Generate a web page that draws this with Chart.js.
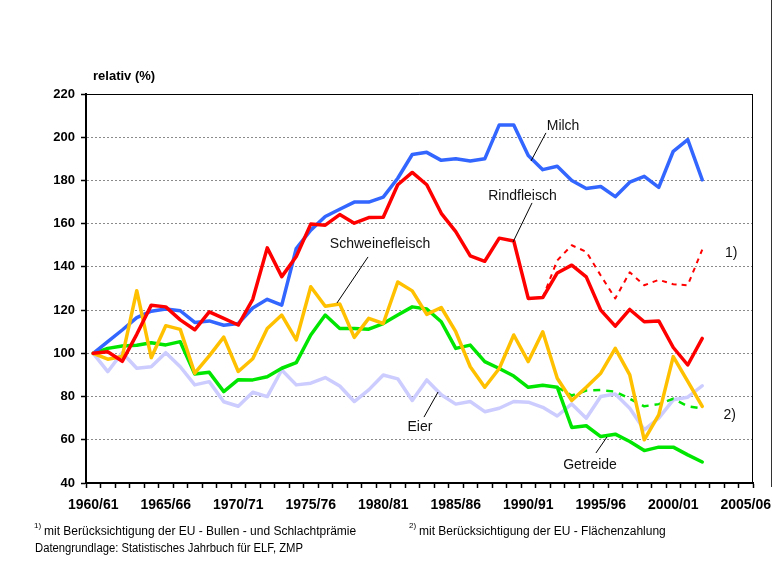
<!DOCTYPE html>
<html>
<head>
<meta charset="utf-8">
<script src="https://cdn.jsdelivr.net/npm/chart.js@4.4.0/dist/chart.umd.min.js"></script>
<style>
  html, body { margin: 0; padding: 0; background: #fff; }
  #wrap { position: relative; width: 782px; height: 562px; }
  canvas { display: block; }
</style>
</head>
<body>
<div id="wrap"><canvas id="c" width="782" height="562"></canvas></div>
<script>
const categories = ["1960/61","1961/62","1962/63","1963/64","1964/65","1965/66","1966/67","1967/68","1968/69","1969/70",
  "1970/71","1971/72","1972/73","1973/74","1974/75","1975/76","1976/77","1977/78","1978/79","1979/80",
  "1980/81","1981/82","1982/83","1983/84","1984/85","1985/86","1986/87","1987/88","1988/89","1989/90",
  "1990/91","1991/92","1992/93","1993/94","1994/95","1995/96","1996/97","1997/98","1998/99","1999/00",
  "2000/01","2001/02","2002/03","2003/04","2004/05","2005/06"];

const milch = [100,105.4,110.8,116.5,119.5,120.5,119.7,114.3,115,113,113.8,121,125,122.3,148.5,157,163.3,166.7,170,170,
  172.3,181,192,193,189.3,190,189,190,205.7,205.7,191.5,185,186.6,180,176.3,177.2,172.5,179.2,181.9,176.8,193.5,198.9,180.3];
const rindfleisch = [100,100.7,96.3,108.8,122.3,121.5,115.5,110.9,119.2,116.2,113.1,125,148.8,135.5,144.8,159.8,159.3,164.2,160.2,162.8,
  163,178,183.7,178,164.8,156.3,145.1,142.6,153.3,152,125.4,125.8,137.2,140.8,135.4,120,112.6,120.3,114.6,115,102.7,94.6,106.9];
const rindfleischPraemie = [null,null,null,null,null,null,null,null,null,null,null,null,null,null,null,null,null,null,null,null,
  null,null,null,null,null,null,null,null,null,null,null,125.8,143,150,147,136,125.4,137.5,131.5,134,132,131.5,148];
const schweinefleisch = [100,97.3,98.5,129,98,112.8,111.1,90.8,98.8,107.5,91.6,97.5,111.5,117.7,106.2,130.8,121.8,122.8,107.4,116.2,
  113.8,133,128.9,118,121.2,110,93.8,84.3,93,108.5,96.2,110,88.5,78.2,84.3,90.8,102.3,90,60,71.5,98.5,87,75.4];
const getreide = [100,102.3,103.4,103.7,104.9,103.9,105.4,90.4,91.2,82.3,87.8,87.7,89.2,93.1,95.7,108.5,117.7,111.5,111.5,111.2,
  113.8,117.7,121.5,120.5,114.6,102.3,103.8,96.2,93,89.5,84.3,85.2,84.3,65.7,66.5,61.5,62.6,59.2,55,56.6,56.6,53,49.7];
const getreideFlaeche = [null,null,null,null,null,null,null,null,null,null,null,null,null,null,null,null,null,null,null,null,
  null,null,null,null,null,null,null,null,null,null,null,null,84.3,80.5,82.8,83,82.3,79,75.5,76.5,79,75.5,74.5];
const eier = [100,91.5,100.3,93.1,93.8,100.3,93.8,85.4,86.9,77.6,75.5,82,80,92.3,85.4,86.2,88.8,84.9,77.7,83.1,
  90,88.2,78.2,87.7,80.8,76.5,77.7,73,74.6,77.7,77.4,75,71,76.6,70,80,81.2,74.6,64.6,70,78.5,79.7,85];

const yTicks = [40,60,80,100,120,140,160,180,200,220];

// annotation labels in data coordinates [categoryIndex, value]
const labels = [
  {text: "Milch", at: [32.4, 205.2], line: [[30.19,189.0],[31.22,202.0]]},
  {text: "Rindfleisch", at: [29.6, 172.8], line: [[28.95,151.5],[30.26,169.6]]},
  {text: "Schweinefleisch", at: [19.78, 150.6], line: [[18.95,144.6],[16.81,123.3]]},
  {text: "Eier", at: [22.53, 65.9], line: [[23.78,82.1],[22.81,70.5]]},
  {text: "Getreide", at: [34.26, 48.3], line: [[35.43,61.3],[34.67,53.9]]},
  {text: "1)", at: [44.0, 146.4], line: null},
  {text: "2)", at: [43.9, 71.5], line: null}
];

const FONT = "'Liberation Sans', Arial, sans-serif";

const extras = {
  id: 'extras',
  afterDraw(chart) {
    const ctx = chart.ctx, a = chart.chartArea;
    const xs = chart.scales.x, ys = chart.scales.y;
    ctx.save();
    // plot border top/right
    ctx.strokeStyle = '#000';
    ctx.lineWidth = 1;
    ctx.beginPath();
    ctx.moveTo(a.left, a.top + 0.5); ctx.lineTo(a.right, a.top + 0.5);
    ctx.moveTo(a.right - 0.5, a.top); ctx.lineTo(a.right - 0.5, a.bottom);
    ctx.stroke();
    // outer frame line on right
    ctx.strokeStyle = '#333';
    ctx.beginPath();
    ctx.moveTo(771.5, 0); ctx.lineTo(771.5, 487);
    ctx.stroke();
    // axis title
    ctx.fillStyle = '#000';
    ctx.font = "bold 13px " + FONT;
    ctx.textAlign = 'left'; ctx.textBaseline = 'middle';
    ctx.fillText("relativ (%)", 93, 76);
    // annotations
    ctx.font = "14px " + FONT;
    ctx.textAlign = 'center';
    ctx.fillStyle = '#111';
    labels.forEach(l => {
      const px = xs.getPixelForValue(l.at[0]);
      const py = ys.getPixelForValue(l.at[1]);
      ctx.fillText(l.text, px, py);
      if (l.line) {
        ctx.strokeStyle = '#000';
        ctx.lineWidth = 1;
        ctx.beginPath();
        ctx.moveTo(xs.getPixelForValue(l.line[0][0]), ys.getPixelForValue(l.line[0][1]));
        ctx.lineTo(xs.getPixelForValue(l.line[1][0]), ys.getPixelForValue(l.line[1][1]));
        ctx.stroke();
      }
    });
    // footnotes
    ctx.textAlign = 'left';
    ctx.fillStyle = '#000';
    ctx.font = "8px " + FONT;
    ctx.fillText("1)", 34, 526);
    ctx.fillText("2)", 409, 526);
    ctx.font = "12px " + FONT;
    ctx.fillText("mit Berücksichtigung der EU - Bullen - und Schlachtprämie", 44, 532, 320);
    ctx.fillText("mit Berücksichtigung der EU - Flächenzahlung", 419, 532, 258);
    ctx.fillText("Datengrundlage: Statistisches Jahrbuch für ELF, ZMP", 35, 549, 268);
    ctx.restore();
  }
};

const commonLine = { pointRadius: 0, pointHoverRadius: 0, tension: 0, fill: false, borderJoinStyle: 'round', borderCapStyle: 'round', spanGaps: false };

new Chart(document.getElementById('c'), {
  type: 'line',
  data: {
    labels: categories,
    datasets: [
      Object.assign({label: 'Rindfleisch 1)', data: rindfleischPraemie, borderColor: '#ff0000', borderWidth: 2, borderDash: [5,5]}, commonLine, {borderCapStyle: 'butt'}),
      Object.assign({label: 'Rindfleisch', data: rindfleisch, borderColor: '#ff0000', borderWidth: 3.5}, commonLine),
      Object.assign({label: 'Schweinefleisch', data: schweinefleisch, borderColor: '#ffc000', borderWidth: 3.5}, commonLine),
      Object.assign({label: 'Milch', data: milch, borderColor: '#3366ff', borderWidth: 3.5}, commonLine),
      Object.assign({label: 'Getreide 2)', data: getreideFlaeche, borderColor: '#00e600', borderWidth: 2.5, borderDash: [7,6]}, commonLine, {borderCapStyle: 'butt'}),
      Object.assign({label: 'Getreide', data: getreide, borderColor: '#00e600', borderWidth: 3.5}, commonLine),
      Object.assign({label: 'Eier', data: eier, borderColor: '#ccccff', borderWidth: 3.5}, commonLine)
    ]
  },
  options: {
    responsive: false,
    animation: false,
    devicePixelRatio: 1,
    layout: { padding: { left: 8, top: 94, right: 29, bottom: 0 } },
    plugins: { legend: { display: false }, tooltip: { enabled: false }, title: { display: false } },
    scales: {
      x: {
        type: 'category',
        offset: true,
        grid: { offset: true, drawOnChartArea: false, drawTicks: true, tickLength: 5, tickColor: '#000', tickWidth: 1.5, color: '#000' },
        border: { display: true, color: '#000', width: 2 },
        ticks: {
          autoSkip: false, maxRotation: 0, minRotation: 0, padding: 9,
          color: '#000', font: { family: FONT, size: 14, weight: 'bold' },
          callback: function(val, idx) { return idx % 5 === 0 ? categories[idx] : ''; }
        },
        afterFit: s => { s.height = 79; }
      },
      y: {
        type: 'linear',
        min: 40, max: 220,
        afterBuildTicks: s => { s.ticks = yTicks.map(v => ({value: v})); },
        grid: { color: '#8a8a8a', lineWidth: 1, tickLength: 5, tickColor: '#000', tickWidth: 1.5, drawTicks: true },
        border: { display: true, color: '#000', width: 2, dash: [2,2] },
        ticks: { padding: 6, color: '#000', font: { family: FONT, size: 13, weight: 'bold' } },
        afterFit: s => { s.width = 78; }
      }
    }
  },
  plugins: [extras]
});
</script>
</body>
</html>
